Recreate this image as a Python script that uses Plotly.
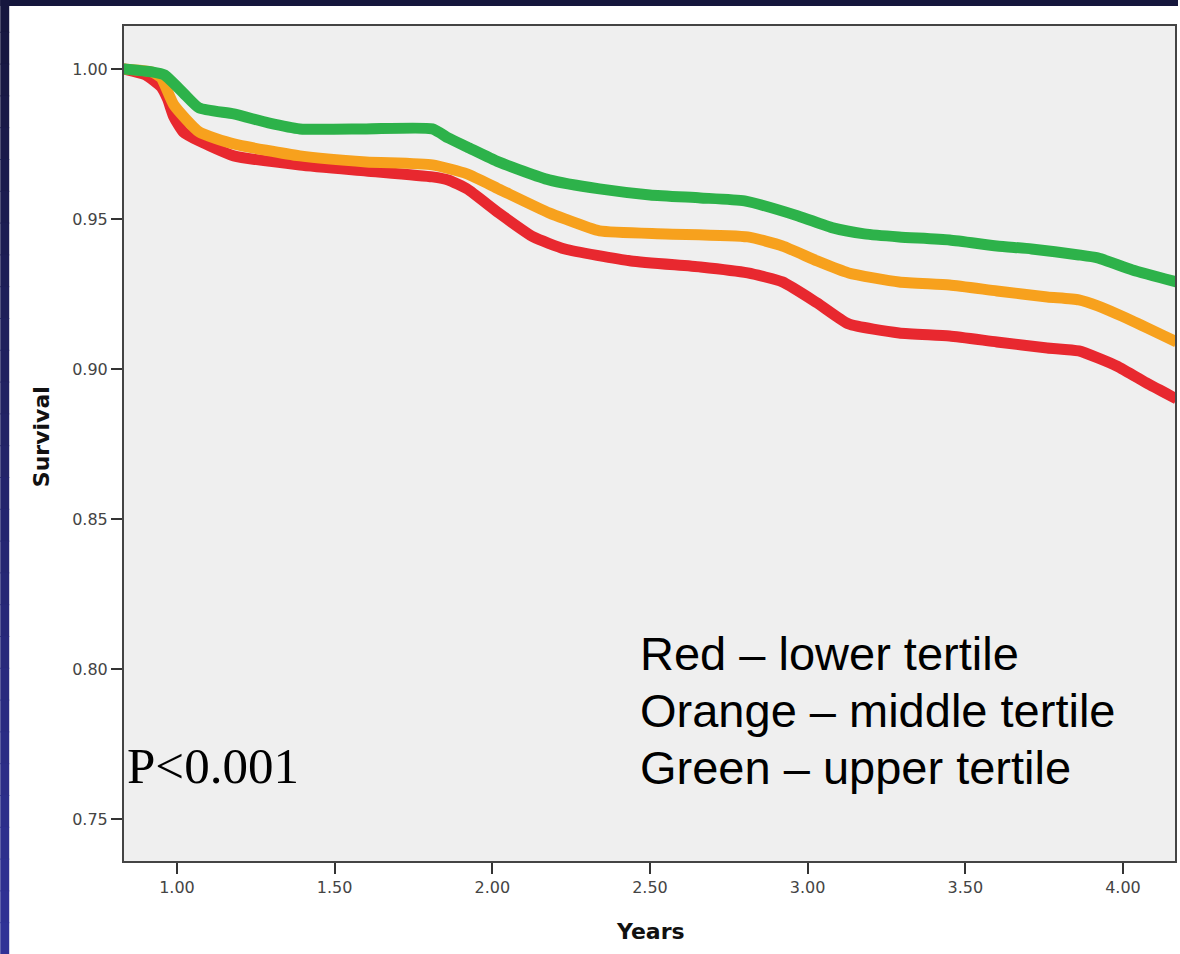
import plotly.graph_objects as go

# ---- data ----
green_t = [0.83, 0.92, 0.96, 1.02, 1.07, 1.18, 1.29, 1.39, 1.60, 1.81, 1.86, 1.92, 2.02, 2.18, 2.34,
           2.50, 2.66, 2.80, 2.97, 3.08, 3.18, 3.29, 3.45, 3.60, 3.71, 3.86, 3.92, 4.03, 4.17]
green_s = [1.000, 0.999, 0.998, 0.992, 0.987, 0.985, 0.982, 0.980, 0.980, 0.980, 0.977, 0.974, 0.969, 0.963, 0.960,
           0.958, 0.957, 0.956, 0.951, 0.947, 0.945, 0.944, 0.943, 0.941, 0.940, 0.938, 0.937, 0.933, 0.929]

orange_t = [0.83, 0.92, 0.95, 0.99, 1.07, 1.18, 1.39, 1.60, 1.81, 1.92, 2.02, 2.18, 2.23, 2.34, 2.55,
            2.81, 2.92, 3.03, 3.13, 3.29, 3.45, 3.60, 3.76, 3.86, 3.92, 4.03, 4.17]
orange_s = [1.000, 0.999, 0.997, 0.988, 0.979, 0.975, 0.971, 0.969, 0.968, 0.965, 0.960, 0.952, 0.950, 0.946, 0.945,
            0.944, 0.941, 0.936, 0.932, 0.929, 0.928, 0.926, 0.924, 0.923, 0.921, 0.916, 0.909]

red_t = [0.83, 0.90, 0.95, 0.97, 0.99, 1.02, 1.07, 1.18, 1.39, 1.60, 1.81, 1.86, 1.92, 2.02, 2.13,
         2.23, 2.44, 2.66, 2.81, 2.92, 3.03, 3.13, 3.29, 3.45, 3.60, 3.76, 3.86, 3.98, 4.08, 4.17]
red_s = [1.000, 0.998, 0.994, 0.990, 0.984, 0.979, 0.976, 0.971, 0.968, 0.966, 0.964, 0.963, 0.960, 0.952, 0.944,
         0.940, 0.936, 0.934, 0.932, 0.929, 0.922, 0.915, 0.912, 0.911, 0.909, 0.907, 0.906, 0.901, 0.895, 0.890]

x_ticks = [1.0, 1.5, 2.0, 2.5, 3.0, 3.5, 4.0]
y_ticks = [0.75, 0.80, 0.85, 0.90, 0.95, 1.00]
legend_lines = ["Red \u2013 lower tertile", "Orange \u2013 middle tertile", "Green \u2013 upper tertile"]
p_text = "P<0.001"

# ---- figure ----
W, H = 1180, 954
ML, MR, MT, MB = 124, 3, 26, 93
PW, PH = W - ML - MR, H - MT - MB


def px_x(px):
    return (px - ML) / PW


def px_y(py):
    return (H - MB - py) / PH


fig = go.Figure()
for t, s, c in [(red_t, red_s, "#e8282f"), (orange_t, orange_s, "#f7a11d"), (green_t, green_s, "#2db24a")]:
    fig.add_trace(go.Scatter(x=t, y=s, mode="lines",
                             line=dict(color=c, width=11, shape="spline", smoothing=0.5),
                             showlegend=False, hoverinfo="skip"))

shapes = []
# top dark strip
shapes.append(dict(type="rect", xref="paper", yref="paper", layer="below",
                   x0=px_x(0), x1=px_x(W), y0=px_y(0), y1=px_y(6),
                   fillcolor="#15163c", line=dict(width=0)))
# left gradient strip
n = 30
top = (0x16, 0x16, 0x3e)
bot = (0x30, 0x32, 0x96)
for i in range(n):
    f = i / (n - 1)
    col = "rgb(%d,%d,%d)" % tuple(round(a + (b - a) * f) for a, b in zip(top, bot))
    y0p = H * i / n
    y1p = H * (i + 1) / n + 1
    shapes.append(dict(type="rect", xref="paper", yref="paper", layer="below",
                       x0=px_x(0), x1=px_x(9), y0=px_y(y1p), y1=px_y(y0p),
                       fillcolor=col, line=dict(width=0)))

annotations = []
for i, txt in enumerate(legend_lines):
    cy = 653.5 + 57 * i
    annotations.append(dict(xref="paper", yref="paper", x=px_x(639), y=px_y(cy),
                            xanchor="left", yanchor="middle", showarrow=False, text=txt,
                            font=dict(family="Liberation Sans, Arial", size=47, color="#000000")))
annotations.append(dict(xref="paper", yref="paper", x=px_x(125), y=px_y(766),
                        xanchor="left", yanchor="middle", showarrow=False, text=p_text,
                        font=dict(family="Liberation Serif, Times New Roman", size=51, color="#000000")))
annotations.append(dict(xref="paper", yref="paper", x=px_x(41), y=px_y(437),
                        xanchor="center", yanchor="middle", showarrow=False, text="<b>Survival</b>",
                        textangle=-90,
                        font=dict(family="DejaVu Sans", size=22, color="#111111")))
annotations.append(dict(xref="paper", yref="paper", x=px_x(652), y=px_y(931),
                        xanchor="center", yanchor="middle", showarrow=False, text="<b>Years</b>",
                        font=dict(family="DejaVu Sans", size=22, color="#111111")))

fig.update_layout(
    width=W, height=H,
    margin=dict(l=ML, r=MR, t=MT, b=MB, pad=0),
    paper_bgcolor="#ffffff",
    plot_bgcolor="#efefef",
    shapes=shapes,
    annotations=annotations,
    xaxis=dict(range=[0.832, 4.165], tickvals=x_ticks, tickformat=".2f",
               showgrid=False, zeroline=False, ticks="outside", ticklen=11, tickwidth=2,
               tickcolor="#333333", showline=True, linecolor="#444444", linewidth=2, mirror=True,
               tickfont=dict(family="DejaVu Sans", size=16, color="#444444")),
    yaxis=dict(range=[0.736, 1.0143], tickvals=y_ticks, tickformat=".2f",
               showgrid=False, zeroline=False, ticks="outside", ticklen=11, tickwidth=2,
               tickcolor="#333333", showline=True, linecolor="#444444", linewidth=2, mirror=True,
               tickfont=dict(family="DejaVu Sans", size=16, color="#444444")),
)

fig.write_html("out.html")
